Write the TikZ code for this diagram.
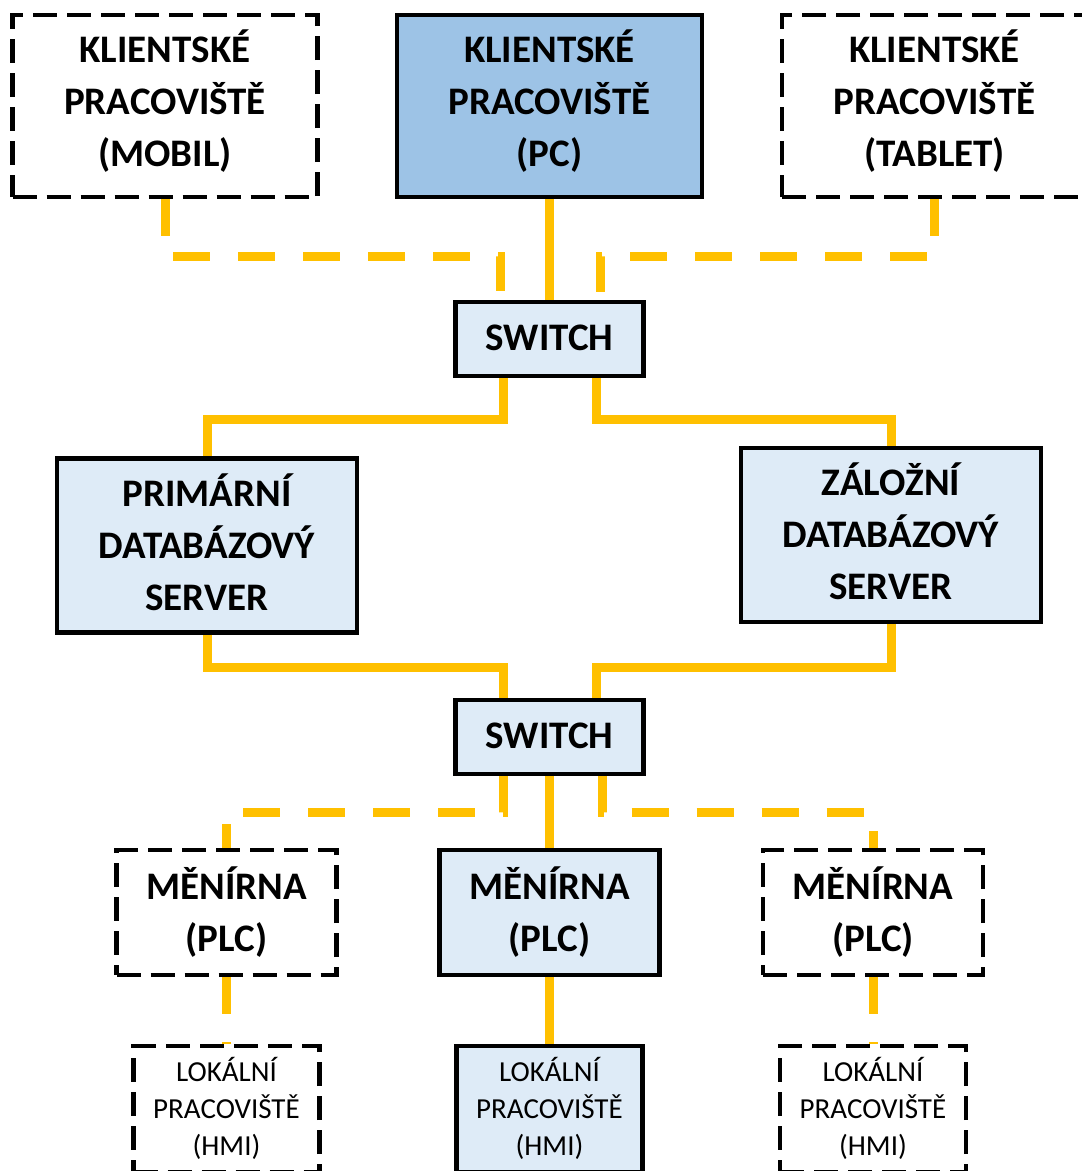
\documentclass[tikz,border=0pt]{standalone}
\usepackage{fontspec}
\setmainfont{Carlito}
\usetikzlibrary{positioning}
\definecolor{pcblue}{HTML}{9DC3E6}
\definecolor{boxblue}{HTML}{DEEBF7}
\definecolor{wire}{HTML}{FFC000}

\begin{document}
\begin{tikzpicture}[x=1pt, y=-1pt,
    box/.style={rectangle, draw, line width=4.5pt, align=center, inner sep=0pt,
      font=\fontsize{39}{52}\selectfont\bfseries, fill=boxblue, text depth=0pt},
    ghost/.style={box, fill=none, dash pattern=on 24pt off 10pt},
    client/.style={minimum width=305pt, minimum height=182pt, text height=121pt},
    swbox/.style={minimum width=188pt, minimum height=74pt, text height=22pt},
    dbbox/.style={minimum width=300pt, minimum height=174pt, text height=129pt},
    plc/.style={minimum width=220pt, minimum height=125pt, text height=77pt},
    hmi/.style={minimum width=186pt, minimum height=126pt,
      font=\fontsize{29}{37}\selectfont, text height=93pt},
    link/.style={wire, line width=9pt},
    dlink/.style={link, dash pattern=on 37pt off 28pt}]

  \clip (0,0) rectangle (1082,1171);
  \useasboundingbox (0,0) rectangle (1082,1171);

  % klientska pracoviste
  \node[ghost,client] (mobil) at (165,106) {KLIENTSKÉ\\PRACOVIŠTĚ\\(MOBIL)};
  \node[box,client,fill=pcblue] (pc) at (549.5,106) {KLIENTSKÉ\\PRACOVIŠTĚ\\(PC)};
  \node[ghost,client] (tablet) at (934.5,106) {KLIENTSKÉ\\PRACOVIŠTĚ\\(TABLET)};

  \node[box,swbox] (sw1) at (549.5,339) {SWITCH};
  \node[box,dbbox] (prim) at (207,545.5) {PRIMÁRNÍ\\DATABÁZOVÝ\\SERVER};
  \node[box,dbbox] (back) at (891,535) {ZÁLOŽNÍ\\DATABÁZOVÝ\\SERVER};
  \node[box,swbox] (sw2) at (549.5,737) {SWITCH};

  % menirny a HMI
  \node[ghost,plc] (plcA) at (226.5,912.5) {MĚNÍRNA\\(PLC)};
  \node[box,plc] (plcB) at (549.5,912.5) {MĚNÍRNA\\(PLC)};
  \node[ghost,plc] (plcC) at (873,912.5) {MĚNÍRNA\\(PLC)};
  \node[ghost,hmi] (hmiA) at (226.5,1109) {LOKÁLNÍ\\PRACOVIŠTĚ\\(HMI)};
  \node[box,hmi] (hmiB) at (549.5,1109) {LOKÁLNÍ\\PRACOVIŠTĚ\\(HMI)};
  \node[ghost,hmi] (hmiC) at (873,1109) {LOKÁLNÍ\\PRACOVIŠTĚ\\(HMI)};

  \draw[link] (pc.south) -- (sw1.north);
  \draw[dlink] (mobil.south) -- ++(0,57) -| ([xshift=-49pt]sw1.north);
  \draw[dlink] (tablet.south) -- ++(0,57) -| ([xshift=51pt]sw1.north);
  \draw[link] ([xshift=-46pt]sw1.south) -- ++(0,41) -| (prim.north);
  \draw[link] ([xshift=47pt]sw1.south) -- ++(0,41) -| (back.north);
  \draw[link] (prim.south) -- ++(0,33) -| ([xshift=-46pt]sw2.north);
  \draw[link] (back.south) -- ++(0,43) -| ([xshift=47pt]sw2.north);
  \draw[link] (sw2.south) -- (plcB.north);
  \draw[dlink] ([xshift=-46pt]sw2.south) -- ++(0,36) -| (plcA.north);
  \draw[dlink] ([xshift=53pt]sw2.south) -- ++(0,36) -| (plcC.north);
  \draw[dlink] (plcA.south) -- (hmiA.north);
  \draw[link] (plcB.south) -- (hmiB.north);
  \draw[dlink] (plcC.south) -- (hmiC.north);
\end{tikzpicture}
\end{document}
